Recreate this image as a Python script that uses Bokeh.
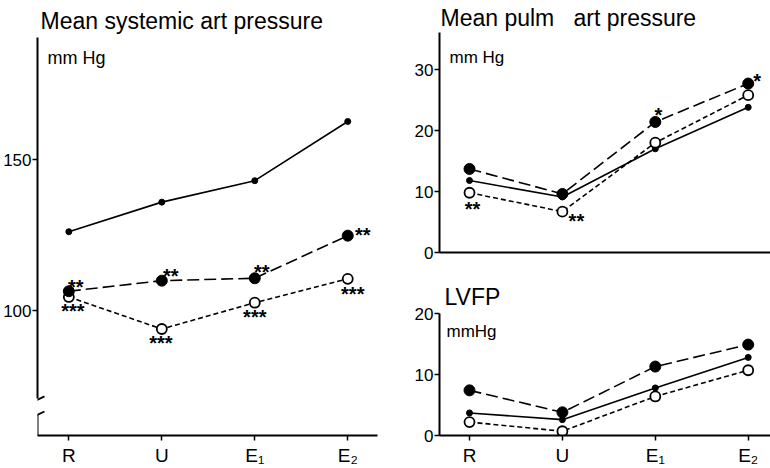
from bokeh.plotting import figure
from bokeh.layouts import row, column
from bokeh.models import Range1d, FixedTicker, Label, Arrow, ColumnDataSource
from bokeh.core.properties import value
from bokeh.embed import file_html
from bokeh.resources import INLINE

FONT = "Liberation Sans"

# ---------------- data ----------------
categories = ["R", "U", "E\u2081", "E\u2082"]

sys_solid = [126.1, 135.9, 143.0, 162.6]
sys_filled = [106.4, 109.9, 110.7, 124.8]
sys_open = [104.5, 93.9, 102.6, 110.5]
sys_filled_stars = ["**", "**", "**", "**"]
sys_open_stars = ["***", "***", "***", "***"]
sys_ticks = [100, 150]

pulm_solid = [11.8, 9.1, 17.0, 23.8]
pulm_filled = [13.7, 9.6, 21.4, 27.7]
pulm_open = [9.8, 6.7, 18.0, 25.8]
pulm_filled_stars = ["", "", "*", "*"]
pulm_open_stars = ["**", "**", "", ""]
pulm_ticks = [0, 10, 20, 30]

lvfp_solid = [3.7, 2.6, 7.8, 12.8]
lvfp_filled = [7.4, 3.8, 11.3, 14.9]
lvfp_open = [2.2, 0.7, 6.4, 10.7]
lvfp_ticks = [0, 10, 20]

xs = list(range(len(categories)))
x_labels = {i: c for i, c in enumerate(categories)}

# ---------------- styling helpers ----------------
STAR_DY = 5  # asterisk glyph sits high in the em box


def make_fig(w, h, borders, xr, yr, title, title_off, title_standoff, ticks, show_x):
    bl, br, bt, bb = borders
    p = figure(width=w, height=h, x_range=Range1d(*xr), y_range=Range1d(*yr),
               output_backend="svg", toolbar_location=None,
               min_border_left=bl, min_border_right=br,
               min_border_top=bt, min_border_bottom=bb, title=title)
    p.outline_line_color = None
    p.xgrid.visible = False
    p.ygrid.visible = False
    t = p.title
    t.text_font = FONT
    t.text_font_size = "23px"
    t.text_font_style = "normal"
    t.text_color = "black"
    t.text_line_height = 1.0
    t.align = "left"
    t.offset = title_off
    t.standoff = title_standoff
    for ax in (p.xaxis[0], p.yaxis[0]):
        ax.axis_line_width = 2
        ax.axis_line_color = "black"
        ax.major_tick_line_width = 1.5
        ax.major_tick_line_color = "black"
        ax.minor_tick_line_color = None
        ax.major_tick_in = 0
        ax.major_label_text_font = FONT
        ax.major_label_text_color = "black"
    p.yaxis[0].ticker = FixedTicker(ticks=ticks)
    p.yaxis[0].major_tick_out = 5
    p.yaxis[0].major_label_standoff = 1
    p.yaxis[0].major_label_text_font_size = "17px"
    xa = p.xaxis[0]
    if show_x:
        xa.ticker = FixedTicker(ticks=xs)
        xa.major_label_overrides = x_labels
        xa.major_tick_out = 5
        xa.major_label_standoff = 4
        xa.major_label_text_font_size = "19px"
    else:
        xa.ticker = FixedTicker(ticks=[])
        xa.major_tick_out = 0
        xa.major_label_standoff = 0
    return p


def draw_series(p, solid, filled, opn):
    p.line(xs, solid, line_color="black", line_width=1.6)
    p.line(xs, filled, line_color="black", line_width=1.6, line_dash="12 5")
    p.line(xs, opn, line_color="black", line_width=1.6, line_dash="5 3")
    p.scatter(xs, solid, size=6, marker="circle", fill_color="black", line_color="black")
    p.scatter(xs, opn, size=10, marker="circle", fill_color="white", line_color="black", line_width=1.8)
    p.scatter(xs, filled, size=11, marker="circle", fill_color="black", line_color="black")


def draw_stars(p, series, stars, offsets):
    sx, sy, st, dx, dy = [], [], [], [], []
    for i, (v, s, off) in enumerate(zip(series, stars, offsets)):
        if s:
            sx.append(xs[i]); sy.append(v); st.append(s)
            dx.append(off[0]); dy.append(off[1] + STAR_DY)
    src = ColumnDataSource(dict(x=sx, y=sy, text=st, dx=dx, dy=dy))
    p.text(x="x", y="y", text="text", x_offset="dx", y_offset="dy", source=src,
           text_font=value(FONT), text_font_size="20px", text_font_style="bold",
           text_align="center", text_baseline="middle", text_color="black")


def unit_label(p, text, dx, dy, size="17px"):
    p.add_layout(Label(x=p.x_range.start, y=p.y_range.end, x_offset=dx, y_offset=dy,
                       text=text, text_font=FONT, text_font_size=size,
                       text_baseline="alphabetic", text_align="left", text_color="black"))


# ---------------- left: systemic pressure ----------------
p1 = make_fig(385, 468, (37, 8, 37, 29), (-0.337, 3.32), (58.64, 190.4),
              "Mean systemic art pressure", 3, 7, sys_ticks, True)
draw_series(p1, sys_solid, sys_filled, sys_open)
draw_stars(p1, sys_filled, sys_filled_stars, [(7, -9), (9, -10), (7, -11), (15, -6)])
draw_stars(p1, sys_open, sys_open_stars, [(4, 9), (-1, 9), (0, 9), (5, 10)])
unit_label(p1, "mm Hg", 10, -20, "18px")

# axis break
BREAK_HI, BREAK_LO = 70.8, 65.5
p1.yaxis[0].bounds = (BREAK_HI, p1.y_range.end)
x0 = p1.x_range.start
p1.add_layout(Arrow(end=None, x_start=x0, y_start=p1.y_range.start, x_end=x0, y_end=BREAK_LO,
                    line_width=2, line_color="black"))
for yb in (70.5, 65.5):
    p1.add_layout(Arrow(end=None, x_start=x0 - 0.075, y_start=yb - 1.1,
                        x_end=x0 + 0.075, y_end=yb + 1.1, line_width=1.8, line_color="black"))

# ---------------- right top: pulmonary pressure ----------------
p2 = make_fig(385, 262, (54, 0, 32, 10), (-0.323, 3.24), (0, 36.07),
              "Mean pulm\u00a0\u00a0\u00a0art pressure", 1, 4, pulm_ticks, False)
draw_series(p2, pulm_solid, pulm_filled, pulm_open)
draw_stars(p2, pulm_filled, pulm_filled_stars, [None, None, (3, -12), (9, -8)])
draw_stars(p2, pulm_open, pulm_open_stars, [(3, 11), (14, 4), None, None])
unit_label(p2, "mm Hg", 10, -25)

# ---------------- right bottom: LVFP ----------------
p3 = make_fig(385, 206, (54, 0, 51, 33), (-0.323, 3.24), (0, 20),
              "LVFP", 5, 7, lvfp_ticks, True)
draw_series(p3, lvfp_solid, lvfp_filled, lvfp_open)
unit_label(p3, "mmHg", 7, -18)

layout = row(p1, column(p2, p3, spacing=0), spacing=0)

with open("out.html", "w") as f:
    f.write(file_html(layout, INLINE))
